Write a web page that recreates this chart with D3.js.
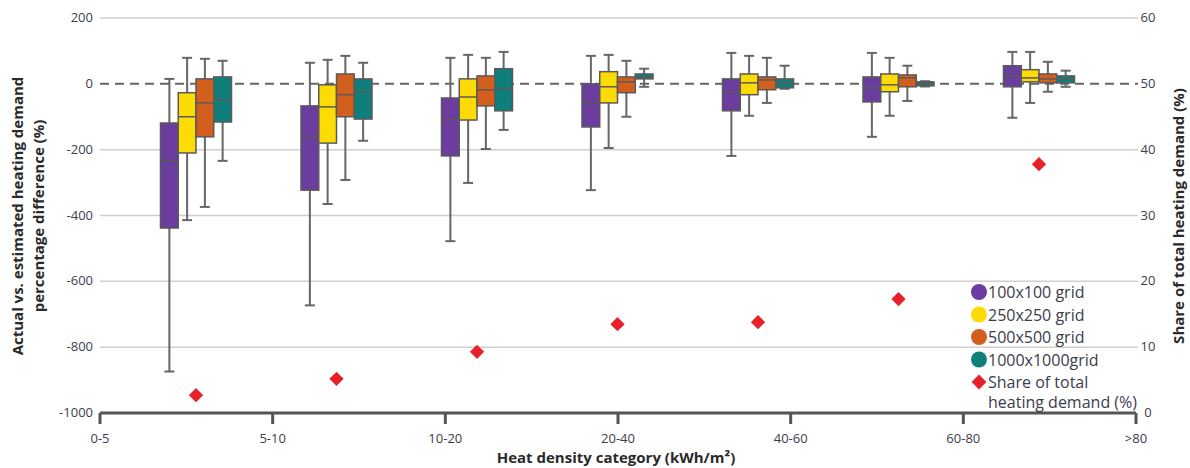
<!DOCTYPE html>
<html>
<head>
<meta charset="utf-8">
<script src="https://cdn.jsdelivr.net/npm/d3@7/dist/d3.min.js"></script>
<style>
	body { margin: 0; background: #fff; }
	text { font-family: "Open Sans", "Noto Sans", sans-serif; }
</style>
</head>
<body>
<script>
var categories = ["0-5", "5-10", "10-20", "20-40", "40-60", "60-80", ">80"];
var grids = ["100x100 grid", "250x250 grid", "500x500 grid", "1000x1000grid"];
var colors = ["#6a3d9e", "#fddb05", "#d35f1e", "#0e7f7b"];

// [whisker low, Q1, median, Q3, whisker high] per category
var grid100 = [
	[-874, -438, -234, -119, 15],
	[-673, -323, -164, -67, 64],
	[-478, -219, -107, -43, 79],
	[-323, -131, -58, 0, 85],
	[-219, -82, -24, 15, 94],
	[-161, -55, -12, 21, 94],
	[-103, -9, 24, 55, 97]
];
var grid250 = [
	[-414, -210, -100, -27, 79],
	[-365, -180, -70, -3, 73],
	[-301, -110, -40, 15, 88],
	[-195, -58, -9, 37, 88],
	[-97, -33, 3, 30, 85],
	[-97, -24, -3, 30, 79],
	[-58, 6, 18, 43, 97]
];
var grid500 = [
	[-374, -161, -58, 15, 76],
	[-292, -100, -33, 30, 85],
	[-198, -67, -18, 24, 79],
	[-100, -27, 6, 21, 70],
	[-58, -18, 12, 21, 79],
	[-52, -9, 18, 27, 55],
	[-24, 3, 15, 30, 67]
];
var grid1000 = [
	[-234, -116, -49, 21, 70],
	[-173, -107, -24, 15, 64],
	[-140, -82, -15, 46, 97],
	[-9, 15, 21, 30, 46],
	[-15, -12, 3, 15, 55],
	[-8, -6, 0, 6, 8],
	[-9, 3, 15, 24, 40]
];
var shareOfDemand = [2.7, 5.2, 9.3, 13.5, 13.8, 17.3, 37.8];

var leftTicks = [200, 0, -200, -400, -600, -800, -1000];
var rightTicks = [60, 50, 40, 30, 20, 10, 0];

var width = 1190, height = 468;
var plotTop = 18, plotBottom = 413, plotLeft = 100, plotRight = 1136;

var svg = d3.select("body").append("svg")
	.attr("width", width)
	.attr("height", height);

var y = d3.scaleLinear().domain([-1000, 200]).range([plotBottom, plotTop]);
var y2 = d3.scaleLinear().domain([0, 60]).range([plotBottom, plotTop]);
var xTick = d3.scalePoint().domain(categories).range([plotLeft, plotRight]);
var xGroup = d3.scalePoint().domain(categories).range([196, 1039]);
var xBox = d3.scaleBand().domain(grids).range([-35.5, 35.5]).padding(0);

// grid lines
svg.append("g").selectAll("line")
	.data(leftTicks.filter(function(d) { return d !== 0 && d !== -1000; }))
	.enter().append("line")
	.attr("x1", plotLeft).attr("x2", plotRight + 2)
	.attr("y1", function(d) { return y(d); })
	.attr("y2", function(d) { return y(d); })
	.style("stroke", "#cfcfcf")
	.style("stroke-width", 1.5);

svg.append("line")
	.attr("x1", plotLeft).attr("x2", plotRight + 2)
	.attr("y1", y(0)).attr("y2", y(0))
	.style("stroke", "#666")
	.style("stroke-width", 2)
	.style("stroke-dasharray", "9,6");

// left axis labels
svg.append("g").selectAll("text")
	.data(leftTicks)
	.enter().append("text")
	.attr("x", 93)
	.attr("y", function(d) { return y(d) + 4; })
	.attr("text-anchor", "end")
	.style("font-size", "13px")
	.style("fill", "#3c3c4c")
	.text(function(d) { return d; });

// right axis labels
svg.append("g").selectAll("text")
	.data(rightTicks)
	.enter().append("text")
	.attr("x", 1148)
	.attr("y", function(d) { return y2(d) + 4; })
	.attr("text-anchor", "middle")
	.style("font-size", "13px")
	.style("fill", "#3c3c4c")
	.text(function(d) { return d; });

// boxes
var series = [grid100, grid250, grid500, grid1000];
series.forEach(function(values, s) {
	var g = svg.append("g");
	var boxes = g.selectAll("g")
		.data(values)
		.enter().append("g")
		.attr("transform", function(d, i) {
			return "translate(" + (xGroup(categories[i]) + xBox(grids[s])) + ",0)";
		});
	var bw = xBox.bandwidth();
	boxes.append("line")
		.attr("x1", bw / 2).attr("x2", bw / 2)
		.attr("y1", function(d) { return y(d[0]); })
		.attr("y2", function(d) { return y(d[4]); })
		.style("stroke", "#666").style("stroke-width", 2);
	boxes.selectAll(".cap")
		.data(function(d) { return [d[0], d[4]]; })
		.enter().append("line")
		.attr("x1", bw / 2 - 5).attr("x2", bw / 2 + 5)
		.attr("y1", function(d) { return y(d); })
		.attr("y2", function(d) { return y(d); })
		.style("stroke", "#666").style("stroke-width", 2);
	boxes.append("rect")
		.attr("x", 0)
		.attr("width", bw)
		.attr("y", function(d) { return y(d[3]); })
		.attr("height", function(d) { return y(d[1]) - y(d[3]); })
		.style("fill", colors[s])
		.style("stroke", "#5a5a5a")
		.style("stroke-width", 1.5);
	boxes.append("line")
		.attr("x1", 0).attr("x2", bw)
		.attr("y1", function(d) { return y(d[2]); })
		.attr("y2", function(d) { return y(d[2]); })
		.style("stroke", "#5a5a5a").style("stroke-width", 1.5);
});

// share of demand diamonds
svg.append("g").selectAll("path")
	.data(shareOfDemand)
	.enter().append("path")
	.attr("d", d3.symbol().type(d3.symbolDiamond2).size(130))
	.attr("transform", function(d, i) {
		return "translate(" + xGroup(categories[i]) + "," + y2(d) + ")";
	})
	.style("fill", "#e8202a");

// bottom axis
svg.append("line")
	.attr("x1", plotLeft).attr("x2", plotRight)
	.attr("y1", plotBottom).attr("y2", plotBottom)
	.style("stroke", "#555").style("stroke-width", 3);
svg.append("g").selectAll("line")
	.data(categories)
	.enter().append("line")
	.attr("x1", function(d) { return xTick(d); })
	.attr("x2", function(d) { return xTick(d); })
	.attr("y1", plotBottom).attr("y2", plotBottom + 11)
	.style("stroke", "#555").style("stroke-width", 3);
svg.append("g").selectAll("text")
	.data(categories)
	.enter().append("text")
	.attr("x", function(d) { return xTick(d); })
	.attr("y", 443)
	.attr("text-anchor", "middle")
	.style("font-size", "13px")
	.style("fill", "#3c3c4c")
	.text(function(d) { return d; });

// axis titles
svg.append("text")
	.attr("x", 616).attr("y", 463)
	.attr("text-anchor", "middle")
	.style("font-size", "15px").style("font-weight", "bold").style("fill", "#2a2a2a")
	.text("Heat density category (kWh/m²)");

var leftTitle = svg.append("text")
	.attr("transform", "translate(23,216) rotate(-90)")
	.attr("text-anchor", "middle")
	.style("font-size", "15px").style("font-weight", "bold").style("fill", "#2a2a2a");
leftTitle.append("tspan").attr("x", 0).attr("dy", 0).text("Actual vs. estimated heating demand");
leftTitle.append("tspan").attr("x", 0).attr("dy", 21).text("percentage difference (%)");

svg.append("text")
	.attr("transform", "translate(1184,216) rotate(-90)")
	.attr("text-anchor", "middle")
	.style("font-size", "15px").style("font-weight", "bold").style("fill", "#2a2a2a")
	.text("Share of total heating demand (%)");

// legend
var legend = svg.append("g").attr("transform", "translate(979,292)");
var legendItems = legend.selectAll("g")
	.data(grids)
	.enter().append("g")
	.attr("transform", function(d, i) { return "translate(0," + i * 22.5 + ")"; });
legendItems.append("circle")
	.attr("r", 8)
	.style("fill", function(d, i) { return colors[i]; });
legendItems.append("text")
	.attr("x", 9).attr("y", 6)
	.style("font-size", "16px").style("fill", "#3c3c4c")
	.text(function(d) { return d; });

var shareItem = legend.append("g").attr("transform", "translate(0,90)");
shareItem.append("path")
	.attr("d", d3.symbol().type(d3.symbolDiamond2).size(140))
	.style("fill", "#e8202a");
var shareText = shareItem.append("text")
	.attr("y", 6)
	.style("font-size", "16px").style("fill", "#3c3c4c");
shareText.append("tspan").attr("x", 9).text("Share of total");
shareText.append("tspan").attr("x", 9).attr("dy", 20).text("heating demand (%)");
</script>
</body>
</html>
